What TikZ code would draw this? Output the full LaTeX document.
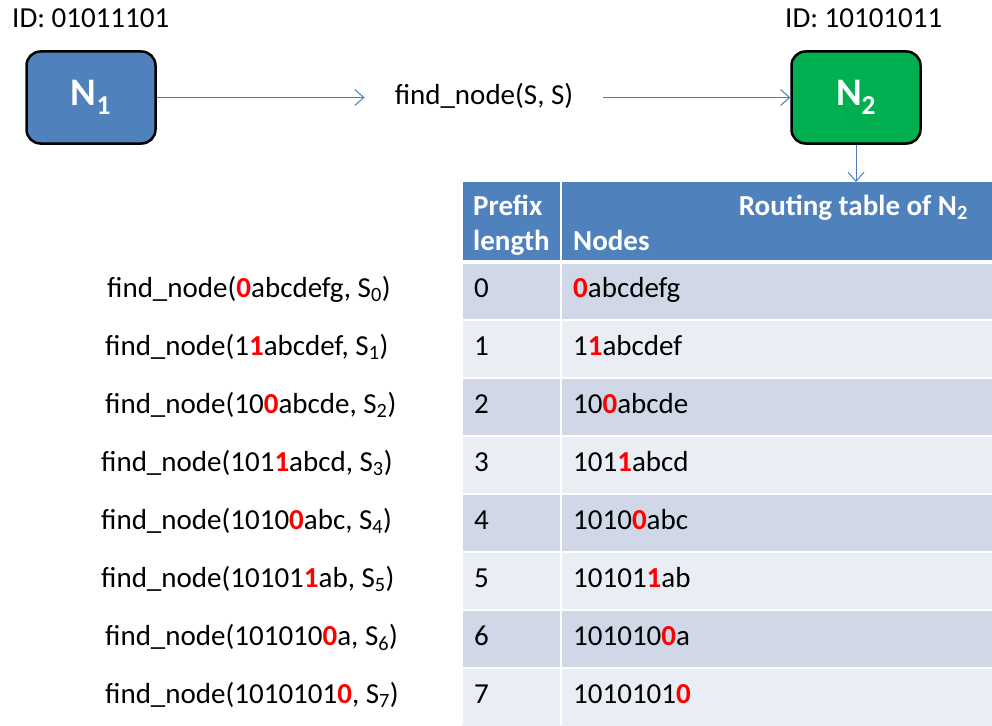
\documentclass[tikz,border=0pt]{standalone}
\usepackage{fontspec}
\setmainfont{Carlito}
\usetikzlibrary{arrows.meta}
\definecolor{hdrblue}{HTML}{4F81BD}
\definecolor{banddark}{HTML}{D0D8E8}
\definecolor{bandlight}{HTML}{E9EDF4}
\definecolor{peergreen}{HTML}{00B050}
\definecolor{linkblue}{HTML}{4A7EBB}
\definecolor{bitred}{HTML}{FF0000}
% highlighted bit of an identifier
\newcommand{\hbit}[1]{\textcolor{bitred}{\textbf{#1}}}

\begin{document}
\begin{tikzpicture}[x=1pt,y=-1pt,
  every node/.style={font=\fontsize{29}{35}\selectfont, inner sep=0pt},
  peer/.style={draw=black, line width=2.5pt, rounded corners=14pt,
    minimum width=129pt, minimum height=92pt, text=white,
    font=\fontsize{39}{45}\selectfont\bfseries},
  link/.style={draw=linkblue, line width=1pt,
    -{Straight Barb[length=9pt,width=16pt,line width=1pt]}},
  hdrtext/.style={text=white, font=\fontsize{29}{35}\selectfont\bfseries},
  sep/.style={draw=white, line width=2pt}
]
\useasboundingbox (0,0) rectangle (992,725);

% the two peers
\node[peer, fill=hdrblue]   (n1) at (91,97.5)  {N\textsubscript{1}};
\node[peer, fill=peergreen] (n2) at (856,97.5) {N\textsubscript{2}};
\node[anchor=base west] (id1) at (12,28)  {ID: 01011101};
\node[anchor=base west] (id2) at (785,28) {ID: 10101011};

% lookup message between them
\node[anchor=base, inner xsep=30pt] (msg) at (484,104) {find\_node(S, S)};
\draw[link] (n1) -- (msg.west |- n1);
\draw[link] (msg.east |- n2) -- (n2);

% routing table header
\node[fill=hdrblue, anchor=north west, minimum width=530pt, minimum height=80pt] (hdr) at (462,182) {};
\node[hdrtext, anchor=base west] (hpre) at (473,215) {Prefix};
\node[hdrtext, anchor=base west] (hlen) at (473,250) {length};
\node[hdrtext, anchor=base west] (hnod) at (573,250) {Nodes};
\node[hdrtext, anchor=base east] (htit) at (968,215) {Routing table of N\textsubscript{2}};
\draw[link] (n2) -- (n2 |- hdr.north);

% table rows and the matching lookups
\foreach \i/\band/\lx/\call/\entry in {
  0/banddark/107/{\hbit{0}abcdefg, S\textsubscript{0}}/{\hbit{0}abcdefg},
  1/bandlight/105/{1\hbit{1}abcdef, S\textsubscript{1}}/{1\hbit{1}abcdef},
  2/banddark/105/{10\hbit{0}abcde, S\textsubscript{2}}/{10\hbit{0}abcde},
  3/bandlight/101/{101\hbit{1}abcd, S\textsubscript{3}}/{101\hbit{1}abcd},
  4/banddark/101/{1010\hbit{0}abc, S\textsubscript{4}}/{1010\hbit{0}abc},
  5/bandlight/101/{10101\hbit{1}ab, S\textsubscript{5}}/{10101\hbit{1}ab},
  6/banddark/105/{101010\hbit{0}a, S\textsubscript{6}}/{101010\hbit{0}a},
  7/bandlight/105/{1010101\hbit{0}, S\textsubscript{7}}/{1010101\hbit{0}}}{
  \pgfmathsetmacro{\rowtop}{262+58*\i}
  \fill[\band] (462,\rowtop) rectangle (992,\rowtop+58);
  \draw[sep] (462,\rowtop) -- (992,\rowtop);
  \node[anchor=base west] (len\i) at (474,\rowtop+35) {\i};
  \node[anchor=base west] (ent\i) at (573,\rowtop+35) {\entry};
  \node[anchor=base west] (call\i) at (\lx,\rowtop+35) {find\_node(\call)};
}
\draw[draw=white, line width=3.5pt] (462,262) -- (992,262);
\draw[sep] (561,182) -- (561,725);
\draw[draw=white, line width=1pt] (462,182) -- (462,725);
\end{tikzpicture}
\end{document}
